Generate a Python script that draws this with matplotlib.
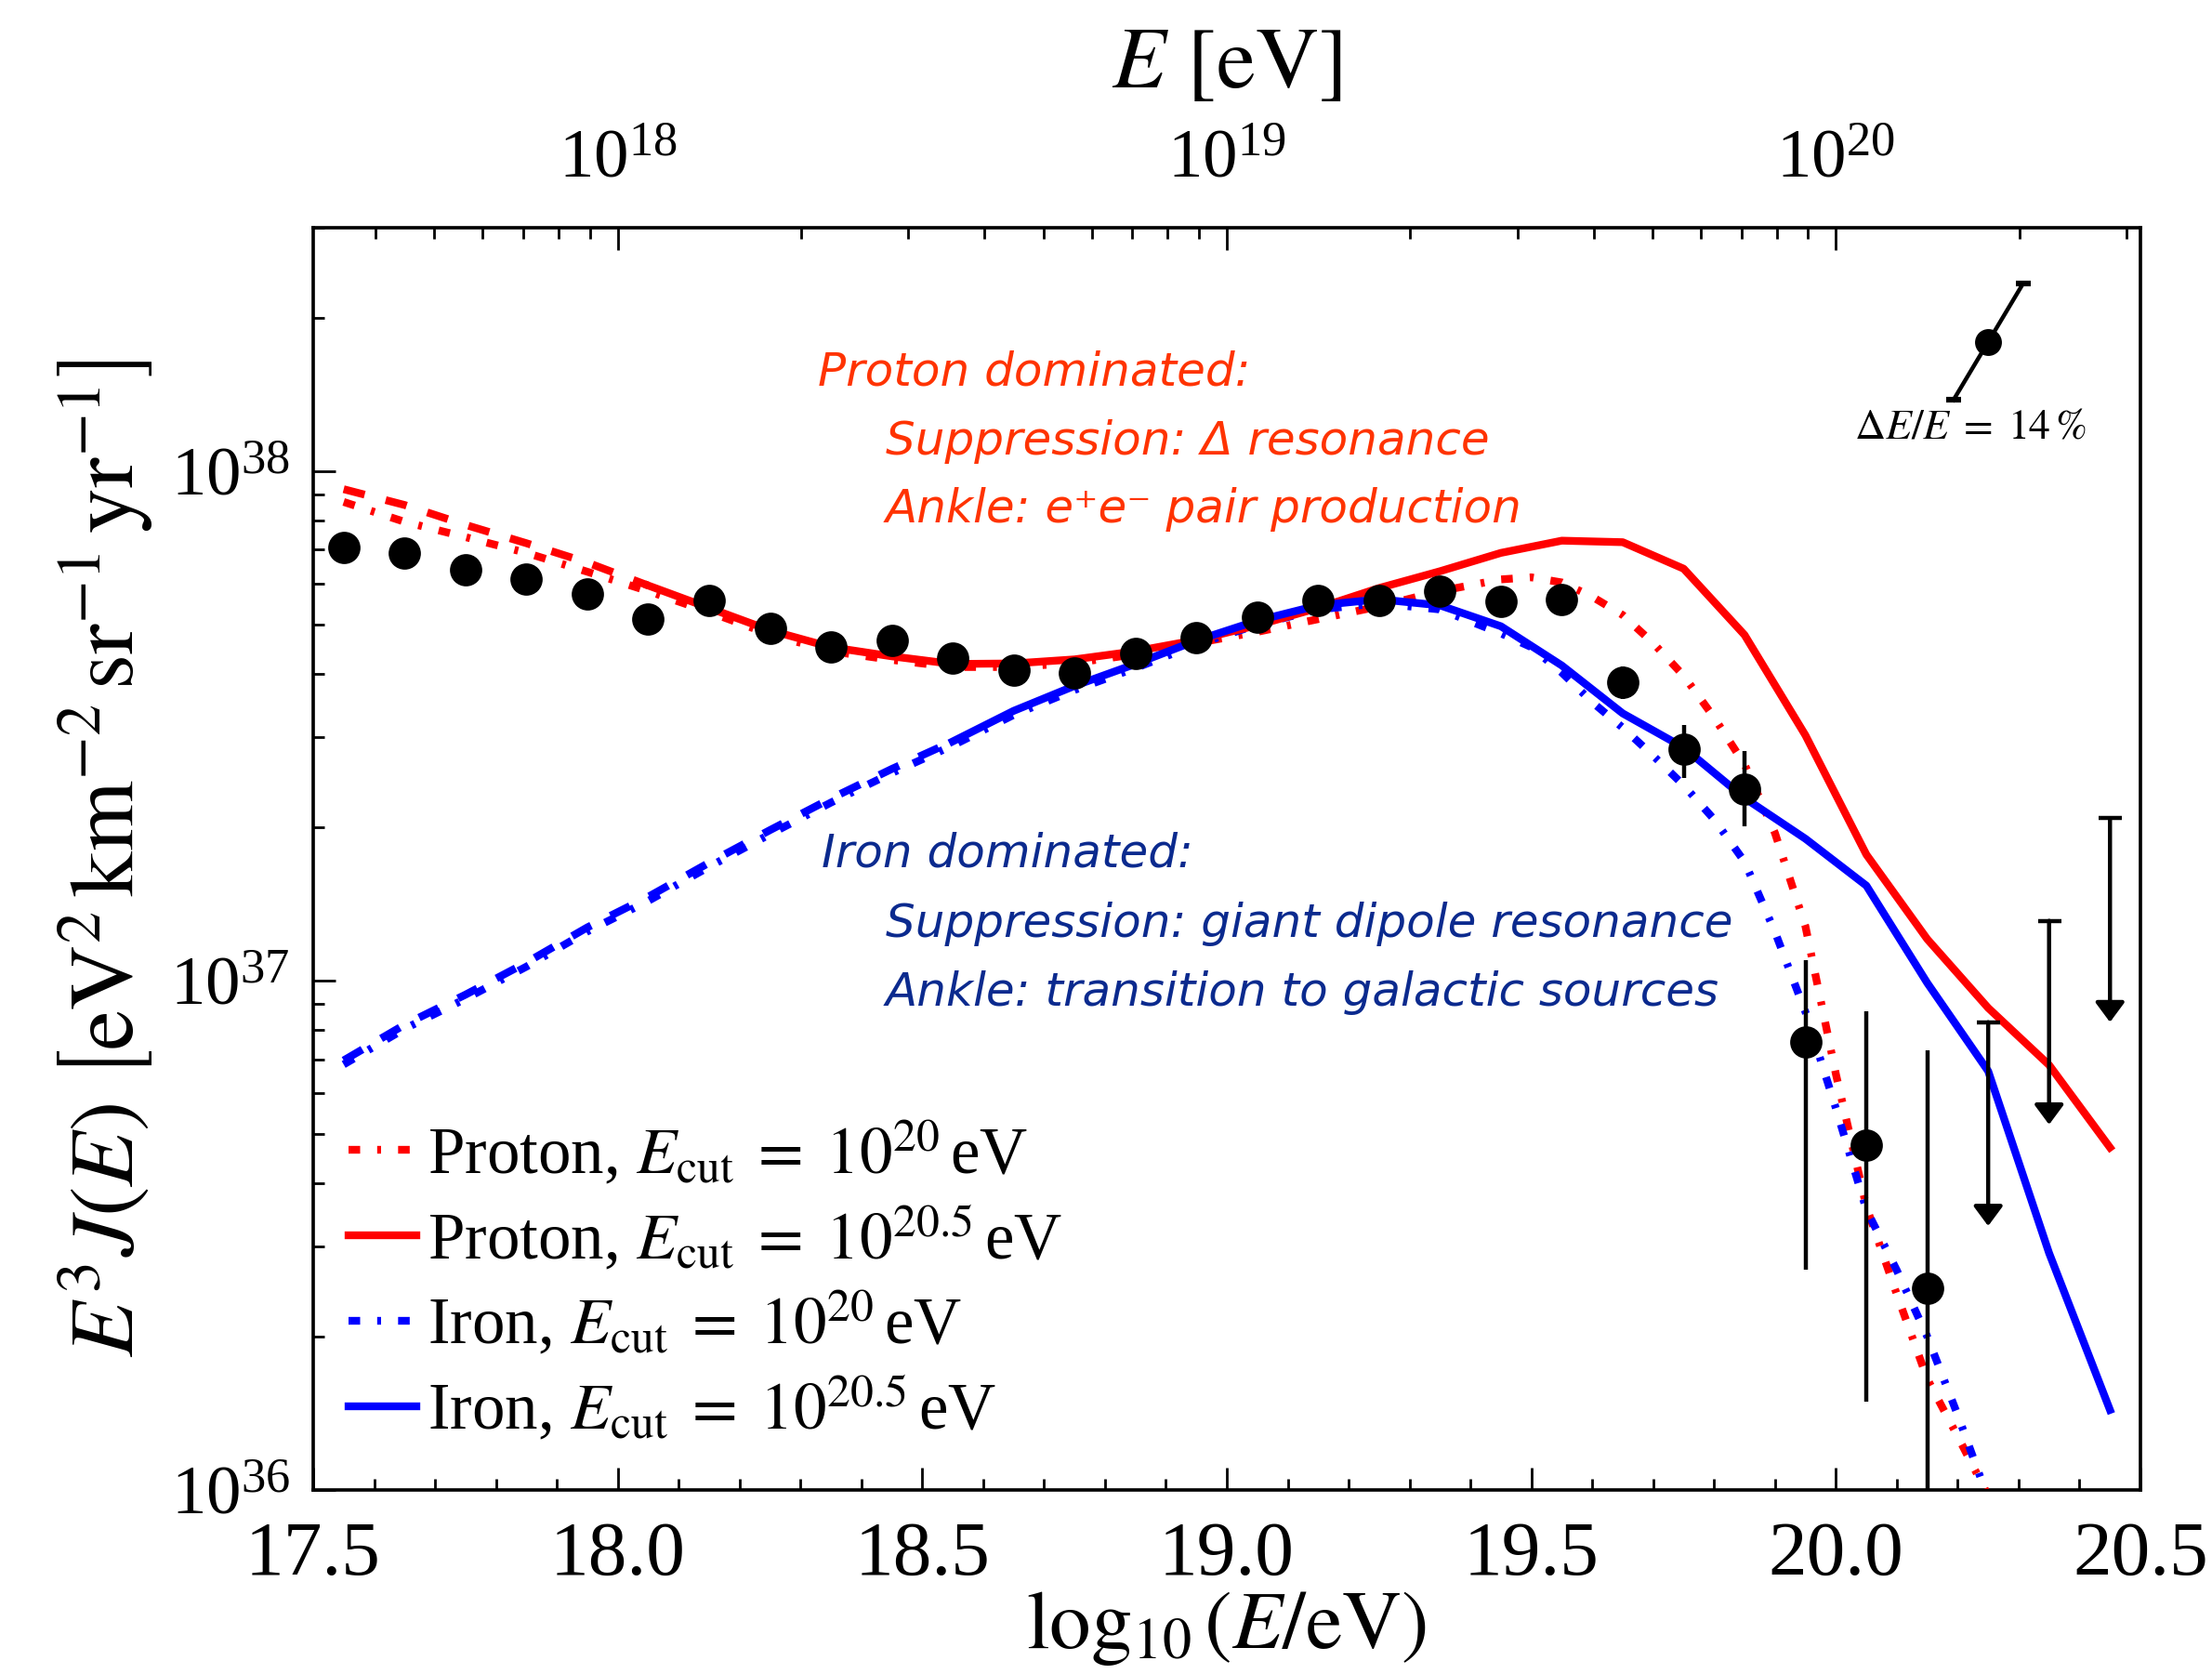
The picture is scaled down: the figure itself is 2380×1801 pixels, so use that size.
import numpy as np
import matplotlib
matplotlib.use('Agg')
import matplotlib.pyplot as plt
from matplotlib.ticker import MultipleLocator, LogLocator, NullFormatter, LogFormatterMathtext, FormatStrFormatter
from matplotlib.lines import Line2D

plt.rcParams['font.family'] = ['Liberation Serif', 'DejaVu Serif']
plt.rcParams['mathtext.fontset'] = 'stix'

# ---------------- data (log10 E [eV], log10 E^3 J) ----------------
data_x = [17.55, 17.65, 17.75, 17.85, 17.95, 18.05, 18.15, 18.25, 18.35, 18.45,
          18.55, 18.65, 18.75, 18.85, 18.95, 19.05, 19.15, 19.25, 19.35, 19.45,
          19.55, 19.65, 19.75, 19.85, 19.95, 20.05, 20.15]
data_log = [37.850, 37.839, 37.805, 37.788, 37.759, 37.710, 37.745, 37.691, 37.654, 37.667,
            37.632, 37.609, 37.603, 37.642, 37.673, 37.712, 37.745, 37.746, 37.763, 37.743,
            37.747, 37.586, 37.454, 37.376, 36.880, 36.677, 36.395]
data_err_up = [0.0] * 21 + [0.030, 0.048, 0.074, 0.160, 0.262, 0.467]
data_err_dn = [0.0] * 21 + [0.034, 0.056, 0.074, 0.448, 0.503, 0.900]

ul_x = [20.25, 20.35, 20.45]
ul_log = [36.918, 37.117, 37.318]

grid_x = [17.55, 17.65, 17.75, 17.85, 17.95, 18.05, 18.15, 18.25, 18.35, 18.45,
          18.55, 18.65, 18.75, 18.85, 18.95, 19.05, 19.15, 19.25, 19.35, 19.45,
          19.55, 19.65, 19.75, 19.85, 19.95, 20.05, 20.15, 20.25, 20.35, 20.45]
proton_205_log = [37.964, 37.933, 37.894, 37.858, 37.820, 37.775, 37.731, 37.687, 37.654, 37.636,
                  37.621, 37.622, 37.630, 37.646, 37.668, 37.697, 37.731, 37.770, 37.803, 37.839,
                  37.863, 37.860, 37.808, 37.678, 37.481, 37.247, 37.081, 36.946, 36.834, 36.672]
iron_205_log = [36.843, 36.913, 36.972, 37.035, 37.104, 37.164, 37.231, 37.295, 37.357, 37.415,
                37.469, 37.529, 37.578, 37.621, 37.667, 37.706, 37.736, 37.748, 37.736, 37.695,
                37.618, 37.524, 37.457, 37.358, 37.278, 37.186, 36.995, 36.822, 36.465, 36.157]

proton_20_x = [17.55, 17.65, 17.75, 17.85, 17.95, 18.05, 18.15, 18.25, 18.35, 18.45,
               18.55, 18.65, 18.75, 18.85, 18.95, 19.05, 19.15, 19.25, 19.35, 19.45,
               19.50, 19.55, 19.60, 19.65, 19.70, 19.75, 19.80, 19.85, 19.90, 19.95,
               20.00, 20.05, 20.10, 20.15, 20.20, 20.25]
proton_20_log = [37.939, 37.900, 37.870, 37.839, 37.802, 37.764, 37.723, 37.679, 37.646, 37.629,
                 37.615, 37.615, 37.623, 37.640, 37.662, 37.684, 37.709, 37.734, 37.764, 37.787,
                 37.791, 37.781, 37.753, 37.717, 37.662, 37.598, 37.516, 37.424, 37.289, 37.106,
                 36.816, 36.556, 36.384, 36.218, 36.105, 35.989]
iron_20_x = proton_20_x
iron_20_log = [36.835, 36.905, 36.964, 37.027, 37.096, 37.156, 37.223, 37.287, 37.349, 37.407,
               37.461, 37.521, 37.570, 37.613, 37.659, 37.698, 37.728, 37.740, 37.728, 37.681,
               37.654, 37.604, 37.546, 37.496, 37.441, 37.383, 37.316, 37.233, 37.095, 36.938,
               36.749, 36.550, 36.431, 36.301, 36.147, 35.983]

proton_dash_until = 18.05
iron_dash_until = 18.55

inset_x, inset_log = 20.25, 38.253
inset_dx, inset_dy = 0.057, 0.114

legend_labels = [r'Proton, $E_{\mathrm{cut}}\;=\;10^{20}\,$eV',
                 r'Proton, $E_{\mathrm{cut}}\;=\;10^{20.5}\,$eV',
                 r'Iron, $E_{\mathrm{cut}}\;=\;10^{20}\,$eV',
                 r'Iron, $E_{\mathrm{cut}}\;=\;10^{20.5}\,$eV']

proton_notes = ['Proton dominated:', 'Suppression: \u0394 resonance',
                'Ankle: e\u207ae\u207b pair production']
iron_notes = ['Iron dominated:', 'Suppression: giant dipole resonance',
              'Ankle: transition to galactic sources']

# ---------------- figure ----------------
fig = plt.figure(figsize=(11.9, 9.005), dpi=200)
ax = fig.add_axes([0.14160, 0.10994, 0.82605, 0.75402])
ax.set_yscale('log')
ax.set_xlim(17.5, 20.5)
ax.set_ylim(1e36, 3e38)

LW = 3.0
DD = (1.5, 2.2, 0.5, 2.2)
DASH = (2.8, 2.8)

def pw(v):
    return 10 ** np.asarray(v)

gx = np.array(grid_x)
p205 = pw(proton_205_log)
i205 = pw(iron_205_log)

ax.plot(proton_20_x, pw(proton_20_log), color='red', lw=LW, dashes=DD, zorder=3)
ax.plot(iron_20_x, pw(iron_20_log), color='blue', lw=LW, dashes=DD, zorder=3)
m1 = gx <= proton_dash_until + 1e-9
m2 = gx >= proton_dash_until - 1e-9
ax.plot(gx[m1], p205[m1], color='red', lw=LW, dashes=DASH, zorder=3)
ax.plot(gx[m2], p205[m2], color='red', lw=LW, ls='-', zorder=3)
m1 = gx <= iron_dash_until + 1e-9
m2 = gx >= iron_dash_until - 1e-9
ax.plot(gx[m1], i205[m1], color='blue', lw=LW, dashes=DASH, zorder=3)
ax.plot(gx[m2], i205[m2], color='blue', lw=LW, ls='-', zorder=3)

# data points
dy = pw(data_log)
lo = dy - pw(np.array(data_log) - np.array(data_err_dn))
hi = pw(np.array(data_log) + np.array(data_err_up)) - dy
ax.errorbar(data_x, dy, yerr=[lo, hi], fmt='o', color='black', ms=11.5,
            elinewidth=1.6, capsize=0, zorder=6)

# upper limits
for x, v in zip(ul_x, ul_log):
    ax.annotate('', xy=(x, 10 ** (v - 0.40)), xytext=(x, 10 ** v),
                arrowprops=dict(arrowstyle='-|>,head_length=0.27,head_width=0.2',
                                lw=1.6, color='black', mutation_scale=24,
                                shrinkA=0, shrinkB=0), zorder=6)
    ax.plot([x], [10 ** v], marker='_', ms=9, mew=1.6, color='black', zorder=6)

# energy-resolution inset
ax.plot([inset_x - inset_dx, inset_x + inset_dx],
        [10 ** (inset_log - inset_dy), 10 ** (inset_log + inset_dy)],
        color='black', lw=1.6, zorder=6)
ax.plot([inset_x - inset_dx, inset_x + inset_dx],
        [10 ** (inset_log - inset_dy), 10 ** (inset_log + inset_dy)],
        ls='none', marker='_', ms=6, mew=2.2, color='black', zorder=6)
ax.plot([inset_x], [10 ** inset_log], 'o', color='black', ms=9.4, zorder=7)
ax.text(20.221, 10 ** 38.085, r'$\Delta E/E\;=\;14\,\%$', fontsize=16.5,
        ha='center', va='center')

# annotations
RED_TXT = '#ff3300'
BLUE_TXT = '#0b2a8e'
note_font = dict(family='DejaVu Sans', style='italic', fontsize=18)
ax.text(18.329, 10 ** 38.193, proton_notes[0], color=RED_TXT, ha='left', va='center', **note_font)
ax.text(18.440, 10 ** 38.057, proton_notes[1], color=RED_TXT, ha='left', va='center', **note_font)
ax.text(18.440, 10 ** 37.924, proton_notes[2], color=RED_TXT, ha='left', va='center', **note_font)
ax.text(18.334, 10 ** 37.248, iron_notes[0], color=BLUE_TXT, ha='left', va='center', **note_font)
ax.text(18.440, 10 ** 37.111, iron_notes[1], color=BLUE_TXT, ha='left', va='center', **note_font)
ax.text(18.440, 10 ** 36.976, iron_notes[2], color=BLUE_TXT, ha='left', va='center', **note_font)

# legend
handles = [Line2D([], [], color='red', lw=LW, dashes=DD),
           Line2D([], [], color='red', lw=LW),
           Line2D([], [], color='blue', lw=LW, dashes=DD),
           Line2D([], [], color='blue', lw=LW)]
ax.legend(handles, legend_labels, loc='lower left', bbox_to_anchor=(0.0193, 0.037),
          frameon=False, fontsize=25.5, handlelength=1.03, handletextpad=0.17,
          labelspacing=0.24, borderpad=0, borderaxespad=0)

# ticks / axes styling
for s in ax.spines.values():
    s.set_linewidth(1.3)
ax.xaxis.set_major_locator(MultipleLocator(0.5))
ax.xaxis.set_minor_locator(MultipleLocator(0.1))
ax.xaxis.set_major_formatter(FormatStrFormatter('%.1f'))
ax.yaxis.set_major_locator(LogLocator(base=10, numticks=10))
ax.yaxis.set_minor_locator(LogLocator(base=10, subs=np.arange(2, 10), numticks=20))
ax.yaxis.set_major_formatter(LogFormatterMathtext())
ax.yaxis.set_minor_formatter(NullFormatter())
ax.tick_params(axis='x', which='major', direction='in', length=8.5, width=1.0,
               labelsize=30, pad=12, top=False, bottom=True)
ax.tick_params(axis='x', which='minor', direction='in', length=4.2, width=1.0,
               top=False, bottom=True)
ax.tick_params(axis='y', which='major', direction='in', length=8.5, width=1.0,
               labelsize=27, pad=9, left=True, right=False)
ax.tick_params(axis='y', which='minor', direction='in', length=4.2, width=1.0,
               left=True, right=False)

ax.set_xlabel(r'$\log_{10}(E/\mathrm{eV})$', fontsize=32)
ax.xaxis.set_label_coords(0.5, -0.079)
ax.set_ylabel(r'$E^3 J(E)\ \left[\mathrm{eV}^2\,\mathrm{km}^{-2}\,\mathrm{sr}^{-1}\,\mathrm{yr}^{-1}\right]$',
              fontsize=35)
ax.yaxis.set_label_coords(-0.0865, 0.5)

ax2 = ax.twiny()
ax2.set_xscale('log')
ax2.set_xlim(10 ** 17.5, 10 ** 20.5)
ax2.xaxis.set_major_locator(LogLocator(base=10, numticks=10))
ax2.xaxis.set_minor_locator(LogLocator(base=10, subs=np.arange(2, 10), numticks=20))
ax2.xaxis.set_major_formatter(LogFormatterMathtext())
ax2.xaxis.set_minor_formatter(NullFormatter())
ax2.tick_params(axis='x', which='major', direction='in', length=8.5, width=1.0,
                labelsize=27, pad=14)
ax2.tick_params(axis='x', which='minor', direction='in', length=4.2, width=1.0)
ax2.set_xlabel(r'$E\ \left[\mathrm{eV}\right]$', fontsize=34)
ax2.xaxis.set_label_coords(0.5, 1.111)

fig.savefig('out.png', dpi=200)
